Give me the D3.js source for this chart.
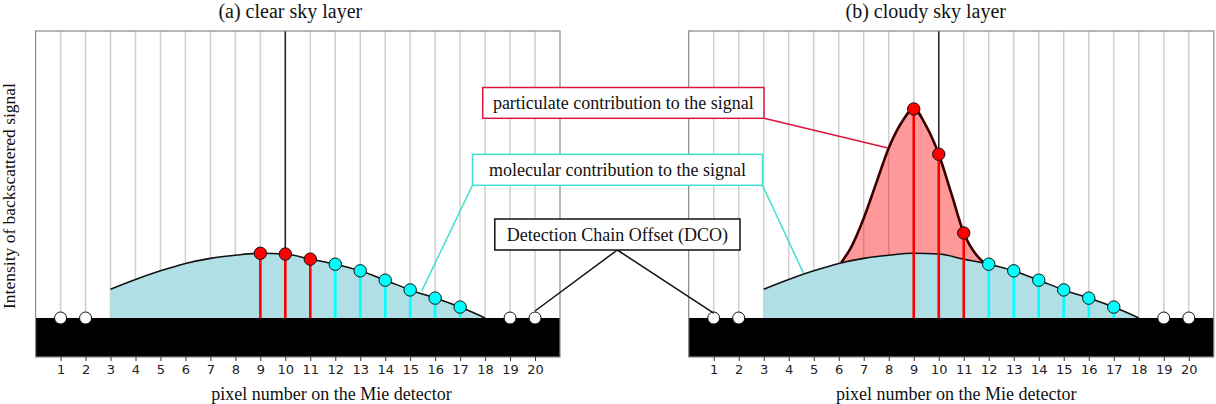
<!DOCTYPE html>
<html>
<head>
<meta charset="utf-8">
<script src="https://cdn.jsdelivr.net/npm/d3@7"></script>
<style>
  body { margin: 0; background: #fff; }
  svg { display: block; }
  .serif { font-family: "Liberation Serif", "Times New Roman", serif; fill: #111; }
</style>
</head>
<body>
<svg width="1216" height="404"></svg>
<script>
// pixels on the Mie detector
var pixels = d3.range(1, 21);
var offsetPixels = [1, 2, 19, 20];
var particlePixels = [9, 10, 11];
var moleculePixels = [12, 13, 14, 15, 16, 17];

// detection chain offset (signal units)
var dco = 1;

// molecular signal above the DCO, read at each pixel
var molX = [3, 4, 5, 6, 7, 8, 9, 10, 11, 12, 13, 14, 15, 16, 17, 18];
var molecular = [0.74, 0.99, 1.21, 1.40, 1.53, 1.61, 1.66, 1.64, 1.51, 1.38, 1.21, 0.97, 0.72, 0.51, 0.28, 0];

// cloudy layer: total signal above the DCO (molecular + particulate)
var cloudX = [6.1, 6.5, 7, 7.5, 8, 8.5, 9, 9.5, 10, 10.5, 11, 11.5, 11.8];
var cloudSignal = [1.42, 1.82, 2.56, 3.46, 4.36, 5.0, 5.36, 4.92, 4.2, 3.2, 2.18, 1.62, 1.42];

var titles = ["(a) clear sky layer", "(b) cloudy sky layer"];
var xLabel = "pixel number on the Mie detector";
var yLabel = "Intensity of backscattered signal";

var svg = d3.select("svg");

var y = d3.scaleLinear().domain([0, 8.36]).range([357, 31]);

var panels = [
    { left: 35.6, right: 560, cloud: false, title: titles[0], titleAt: 10.2, labelAt: 11.85 },
    { left: 688.7, right: 1213.8, cloud: true, title: titles[1], titleAt: 9.48, labelAt: 10.7 }
];

function molAt(p) { return molecular[molX.indexOf(p)]; }
function cloudAt(p) { return cloudSignal[cloudX.indexOf(p)]; }

panels.forEach(function (panel) {
    var x = d3.scaleLinear().domain([0, 21]).range([panel.left, panel.right]);
    panel.x = x;
    var g = svg.append("g");

    // value of the signal at a pixel that carries a coloured point
    function sig(p) { return panel.cloud && particlePixels.indexOf(p) >= 0 ? cloudAt(p) : molAt(p); }

    // grid
    g.append("g").selectAll("line")
        .data(pixels).enter().append("line")
        .attr("x1", function (d) { return x(d); })
        .attr("x2", function (d) { return x(d); })
        .attr("y1", y.range()[1])
        .attr("y2", y(dco))
        .attr("stroke", "#cfcfcf")
        .attr("stroke-width", 1.5);

    // centre line at pixel 10
    g.append("line")
        .attr("x1", x(10)).attr("x2", x(10))
        .attr("y1", y.range()[1]).attr("y2", y(dco + sig(10)))
        .attr("stroke", "#222").attr("stroke-width", 1.5);

    var cloudArea = d3.area()
        .x(function (d, i) { return x(cloudX[i]); })
        .y0(y(dco))
        .y1(function (d) { return y(dco + d); })
        .curve(d3.curveMonotoneX);

    if (panel.cloud) {
        g.append("path")
            .attr("d", cloudArea(cloudSignal))
            .attr("fill", "red")
            .attr("fill-opacity", 0.4);
    }

    var molArea = d3.area()
        .x(function (d, i) { return x(molX[i]); })
        .y0(y(dco))
        .y1(function (d) { return y(dco + d); })
        .curve(d3.curveMonotoneX);

    g.append("path")
        .attr("d", molArea(molecular))
        .attr("fill", "#b0dfe5");

    g.append("path")
        .attr("d", molArea.lineY1()(molecular))
        .attr("fill", "none")
        .attr("stroke", "#111")
        .attr("stroke-width", 1.6);

    if (panel.cloud) {
        g.append("path")
            .attr("d", cloudArea.lineY1()(cloudSignal))
            .attr("fill", "none")
            .attr("stroke", "#3a0000")
            .attr("stroke-width", 2.6);
    }

    // detection chain offset band
    g.append("rect")
        .attr("x", x(0)).attr("width", x(21) - x(0))
        .attr("y", y(dco)).attr("height", y(0) - y(dco))
        .attr("fill", "#000");

    // frame
    g.append("rect")
        .attr("x", x(0)).attr("width", x(21) - x(0))
        .attr("y", y.range()[1]).attr("height", y(0) - y.range()[1])
        .attr("fill", "none")
        .attr("stroke", "#888")
        .attr("stroke-width", 1.2);

    // stems
    var coloured = particlePixels.concat(moleculePixels);
    g.append("g").selectAll("line")
        .data(coloured).enter().append("line")
        .attr("x1", function (d) { return x(d); })
        .attr("x2", function (d) { return x(d); })
        .attr("y1", y(dco))
        .attr("y2", function (d) { return y(dco + sig(d)); })
        .attr("stroke", function (d) { return particlePixels.indexOf(d) >= 0 ? "#ff0000" : "#00ffff"; })
        .attr("stroke-width", 2.6);

    // points
    g.append("g").selectAll("circle")
        .data(coloured).enter().append("circle")
        .attr("cx", function (d) { return x(d); })
        .attr("cy", function (d) { return y(dco + sig(d)); })
        .attr("r", 6.2)
        .attr("fill", function (d) { return particlePixels.indexOf(d) >= 0 ? "#ff0000" : "#00ffff"; })
        .attr("stroke", "#111")
        .attr("stroke-width", 1);

    g.append("g").selectAll("circle")
        .data(offsetPixels).enter().append("circle")
        .attr("cx", function (d) { return x(d); })
        .attr("cy", y(dco))
        .attr("r", 6)
        .attr("fill", "#fff")
        .attr("stroke", "#111")
        .attr("stroke-width", 1);

    // x axis
    var axis = g.append("g")
        .attr("transform", "translate(0," + y(0) + ")")
        .call(d3.axisBottom(x).tickValues(pixels).tickSize(4).tickPadding(4));
    axis.select(".domain").remove();
    axis.selectAll("line").attr("stroke", "#333");
    axis.selectAll("text")
        .attr("font-family", "DejaVu Sans, sans-serif")
        .attr("font-size", 13)
        .attr("fill", "#222");

    g.append("text")
        .attr("class", "serif")
        .attr("x", x(panel.labelAt)).attr("y", 400)
        .attr("text-anchor", "middle")
        .attr("font-size", 18)
        .text(xLabel);

    g.append("text")
        .attr("class", "serif")
        .attr("x", x(panel.titleAt)).attr("y", 18)
        .attr("text-anchor", "middle")
        .attr("font-size", 20)
        .text(panel.title);
});

svg.append("text")
    .attr("class", "serif")
    .attr("transform", "translate(15," + 196 + ") rotate(-90)")
    .attr("text-anchor", "middle")
    .attr("font-size", 17.5)
    .text(yLabel);

// annotations
var clear = panels[0], cloudy = panels[1];
var notes = [
    { text: "particulate contribution to the signal", color: "#dc143c", box: [482.7, 87.5, 281.3, 30.8],
      links: [[[764, 118.3], [cloudy.x(7.97), y(dco + cloudAt(8))]]] },
    { text: "molecular contribution to the signal", color: "#40e0d0", box: [472.5, 154.3, 290, 31],
      links: [[[472.5, 185.3], [clear.x(15.46), y(dco + 0.69)]], [[762.5, 185.3], [cloudy.x(4.59), y(dco + 1.15)]]] },
    { text: "Detection Chain Offset (DCO)", color: "#111", box: [494.8, 219, 245.2, 31],
      links: [[[617.3, 250], [clear.x(20), y(dco) - 7]], [[617.3, 250], [cloudy.x(1), y(dco) - 5]]] }
];

notes.forEach(function (n) {
    n.links.forEach(function (l) {
        svg.append("line")
            .attr("x1", l[0][0]).attr("y1", l[0][1])
            .attr("x2", l[1][0]).attr("y2", l[1][1])
            .attr("stroke", n.color).attr("stroke-width", 1.5);
    });
    svg.append("rect")
        .attr("x", n.box[0]).attr("y", n.box[1])
        .attr("width", n.box[2]).attr("height", n.box[3])
        .attr("fill", "#fff")
        .attr("stroke", n.color).attr("stroke-width", 1.5);
    svg.append("text")
        .attr("class", "serif")
        .attr("x", n.box[0] + n.box[2] / 2)
        .attr("y", n.box[1] + n.box[3] / 2 + 6)
        .attr("text-anchor", "middle")
        .attr("font-size", 18)
        .text(n.text);
});
</script>
</body>
</html>
